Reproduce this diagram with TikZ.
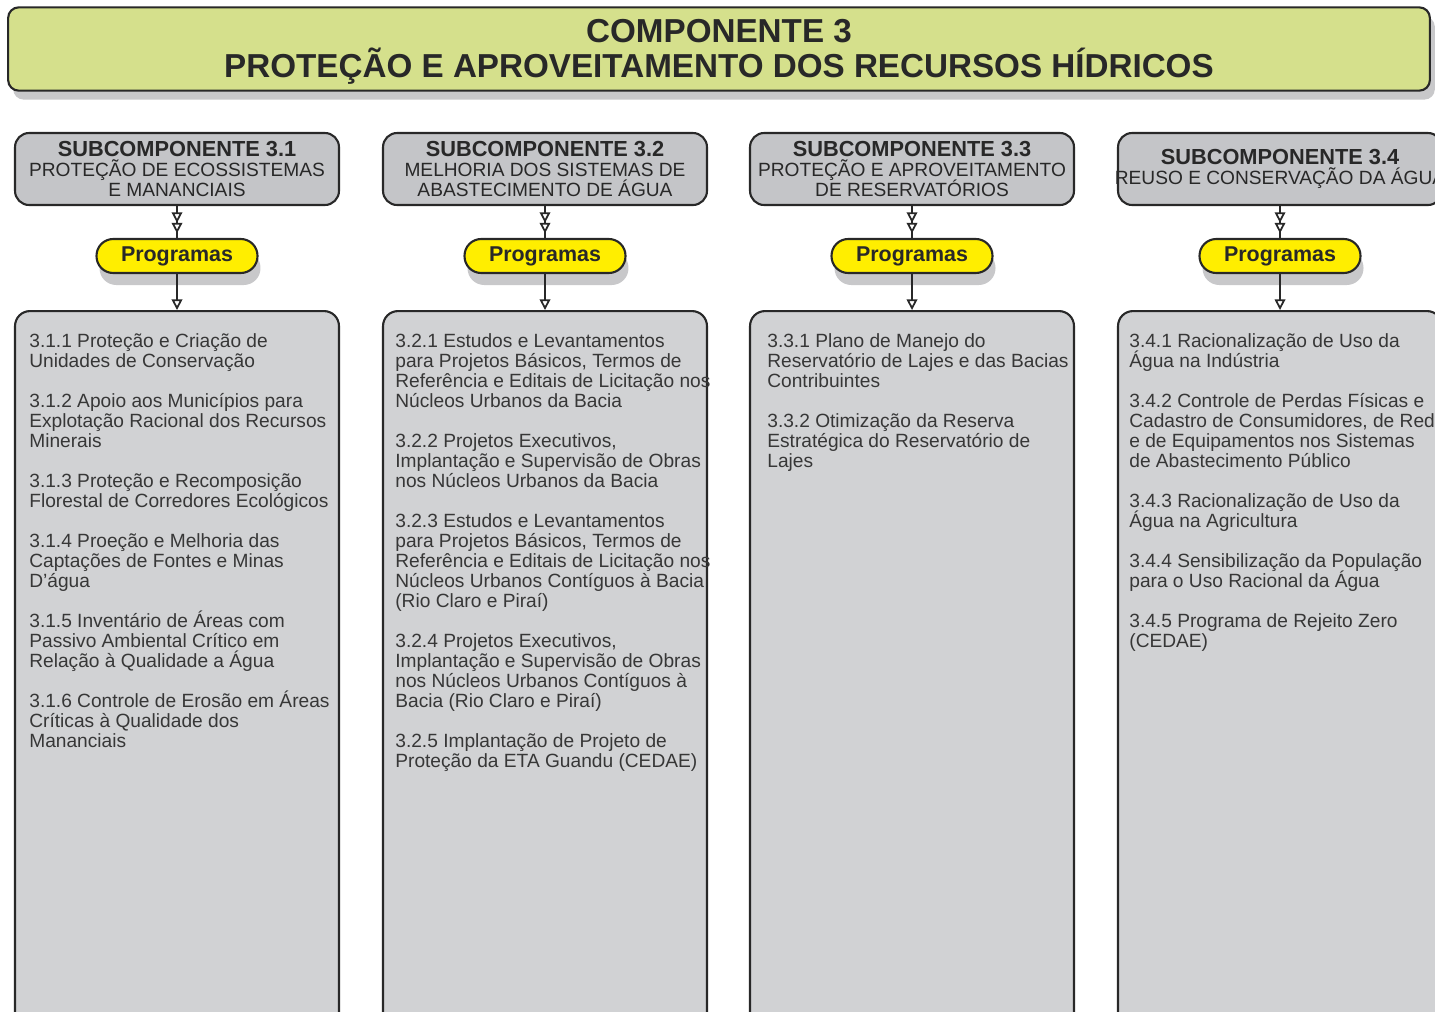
\documentclass[tikz,border=0pt]{standalone}
\usepackage{fontspec}
\setmainfont{Liberation Sans}
\usepackage{tikz}
\usetikzlibrary{arrows.meta, shadows}
\definecolor{compgreen}{RGB}{213,224,140}
\definecolor{subgray}{RGB}{196,197,200}
\definecolor{listgray}{RGB}{209,210,212}
\definecolor{progyellow}{RGB}{255,238,0}
\definecolor{shadegray}{RGB}{200,200,202}
\definecolor{inkgray}{RGB}{40,40,40}
\definecolor{textgray}{RGB}{55,55,55}

\newcommand{\gap}{\\[11.4pt]}
\newcommand{\tightlines}{\lineskiplimit=-20pt\relax}

\tikzset{
  compbox/.style={draw=inkgray, line width=1.2pt, fill=compgreen, rounded corners=6pt,
    minimum width=28.44cm, minimum height=1.6cm, align=center, text=inkgray,
    font=\bfseries\fontsize{18.9}{19.9}\selectfont,
    drop shadow={shadow xshift=0.1cm, shadow yshift=-0.18cm, fill=shadegray, opacity=1}},
  subbox/.style={draw=inkgray, line width=1.2pt, fill=subgray, rounded corners=8pt,
    minimum width=6.48cm, minimum height=1.44cm, inner sep=0pt, align=center, text=inkgray,
    font=\fontsize{10.9}{11.5}\selectfont\tightlines},
  progbox/.style={draw=inkgray, line width=1.2pt, fill=progyellow, rounded corners=9.5pt,
    minimum width=3.22cm, minimum height=0.68cm, inner sep=0pt, text=inkgray,
    font=\bfseries\fontsize{12.2}{14}\selectfont,
    drop shadow={shadow xshift=0.06cm, shadow yshift=-0.24cm, fill=shadegray, opacity=1}},
  listbox/.style={draw=inkgray, line width=1.2pt, fill=listgray, rounded corners=8.5pt,
    minimum width=6.48cm, minimum height=14.38cm, inner sep=0pt},
  listtext/.style={anchor=north west, inner sep=0pt, align=left, text=textgray,
    font=\fontsize{10.9}{11.38}\selectfont\tightlines},
  vtip/.tip={Triangle[open, fill=white, length=6pt, width=6pt, sep=0pt]},
}

\begin{document}
\begin{tikzpicture}[x=0.02cm, y=-0.02cm]
  \useasboundingbox (0,0) rectangle (1435,1011);
  \clip (0,0) rectangle (1435,1011);

  \node[compbox] (comp) at (719,49) {\\[-3pt]COMPONENTE 3\\PROTEÇÃO E APROVEITAMENTO DOS RECURSOS HÍDRICOS};

  % subcomponentes
  \node[subbox] (sub1) at (177,169) {{\bfseries\fontsize{12.4}{11.5}\selectfont SUBCOMPONENTE 3.1}\\PROTEÇÃO DE ECOSSISTEMAS\\E MANANCIAIS};
  \node[subbox] (sub2) at (545,169) {{\bfseries\fontsize{12.4}{11.5}\selectfont SUBCOMPONENTE 3.2}\\MELHORIA DOS SISTEMAS DE\\ABASTECIMENTO DE ÁGUA};
  \node[subbox] (sub3) at (912,169) {{\bfseries\fontsize{12.4}{11.5}\selectfont SUBCOMPONENTE 3.3}\\PROTEÇÃO E APROVEITAMENTO\\DE RESERVATÓRIOS};
  \node[subbox] (sub4) at (1280,169) {{\bfseries\fontsize{12.4}{11.5}\selectfont SUBCOMPONENTE 3.4}\\\makebox[0pt]{REUSO E CONSERVAÇÃO DA ÁGUA}};

  % programas, listas e setas
  \foreach \i/\x in {1/177, 2/545, 3/912, 4/1280} {
    \node[progbox] (prog\i) at (\x,256) {Programas};
    \node[listbox] (list\i) at (\x,670.5) {};
    \draw[line width=1pt, inkgray] (sub\i.south) -- (prog\i.north);
    \draw[line width=1pt, inkgray, shorten >=2.6pt, -{vtip[]vtip[]}] (sub\i.south) -- (prog\i.north);
    \draw[line width=1pt, inkgray, -{vtip[]}] (prog\i.south) -- (list\i.north);
  }

  \node[listtext] (text1) at (29,333) {3.1.1 Proteção e Criação de\\
    Unidades de Conservação\gap
    3.1.2 Apoio aos Municípios para\\
    Explotação Racional dos Recursos\\
    Minerais\gap
    3.1.3 Proteção e Recomposição\\
    Florestal de Corredores Ecológicos\gap
    3.1.4 Proeção e Melhoria das\\
    Captações de Fontes e Minas\\
    D’água\gap
    3.1.5 Inventário de Áreas com\\
    Passivo Ambiental Crítico em\\
    Relação à Qualidade a Água\gap
    3.1.6 Controle de Erosão em Áreas\\
    Críticas à Qualidade dos\\
    Mananciais};

  \node[listtext] (text2) at (395,333) {3.2.1 Estudos e Levantamentos\\
    para Projetos Básicos, Termos de\\
    Referência e Editais de Licitação nos\\
    Núcleos Urbanos da Bacia\gap
    3.2.2 Projetos Executivos,\\
    Implantação e Supervisão de Obras\\
    nos Núcleos Urbanos da Bacia\gap
    3.2.3 Estudos e Levantamentos\\
    para Projetos Básicos, Termos de\\
    Referência e Editais de Licitação nos\\
    Núcleos Urbanos Contíguos à Bacia\\
    (Rio Claro e Piraí)\gap
    3.2.4 Projetos Executivos,\\
    Implantação e Supervisão de Obras\\
    nos Núcleos Urbanos Contíguos à\\
    Bacia (Rio Claro e Piraí)\gap
    3.2.5 Implantação de Projeto de\\
    Proteção da ETA Guandu (CEDAE)};

  \node[listtext] (text3) at (767,333) {3.3.1 Plano de Manejo do\\
    Reservatório de Lajes e das Bacias\\
    Contribuintes\gap
    3.3.2 Otimização da Reserva\\
    Estratégica do Reservatório de\\
    Lajes};

  \node[listtext] (text4) at (1129,333) {3.4.1 Racionalização de Uso da\\
    Água na Indústria\gap
    3.4.2 Controle de Perdas Físicas e\\
    Cadastro de Consumidores, de Rede\\
    e de Equipamentos nos Sistemas\\
    de Abastecimento Público\gap
    3.4.3 Racionalização de Uso da\\
    Água na Agricultura\gap
    3.4.4 Sensibilização da População\\
    para o Uso Racional da Água\gap
    3.4.5 Programa de Rejeito Zero\\
    (CEDAE)};
\end{tikzpicture}
\end{document}
